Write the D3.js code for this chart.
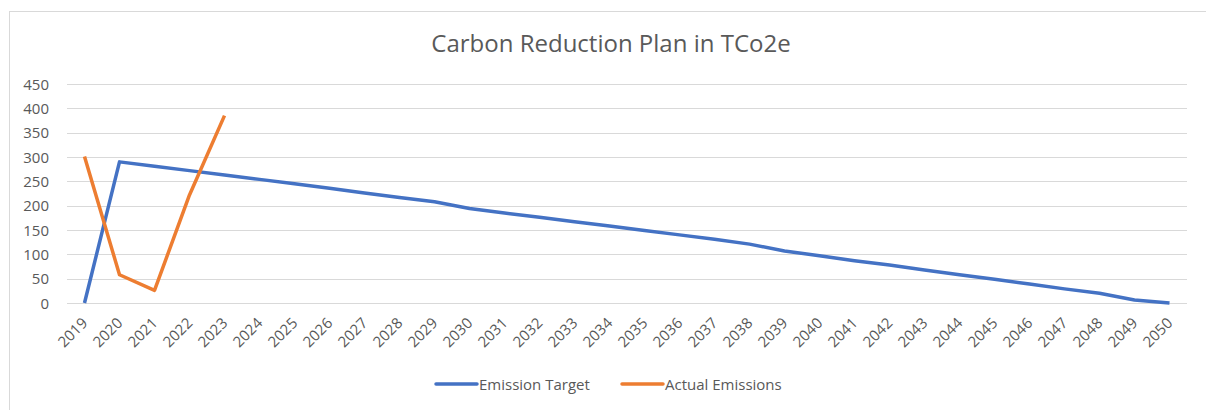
<!DOCTYPE html>
<html>
<head>
<meta charset="utf-8">
<script src="https://cdn.jsdelivr.net/npm/d3@7"></script>
<style>
  body { margin: 0; background: #fff; }
  svg text { font-family: "Open Sans", "Noto Sans", sans-serif; fill: #595959; }
</style>
</head>
<body>
<div id="chart"></div>
<script>
const years = d3.range(2019, 2051).map(String);

const emissionTarget = [
  0, 290, 281, 272, 263, 254, 245, 236, 226, 217, 208,
  194, 185, 176, 167, 158, 149, 140, 131, 121, 107,
  97, 87, 78, 68, 58, 49, 39, 29, 20, 6, 0
];

const actualEmissions = [301, 58, 26, 222, 385];

const yTicks = [0, 50, 100, 150, 200, 250, 300, 350, 400, 450];

const seriesNames = ['Emission Target', 'Actual Emissions'];
const seriesColors = ['#4472C4', '#ED7D31'];

const W = 1206, H = 410;
const svg = d3.select('#chart').append('svg')
  .attr('width', W).attr('height', H);

// chart border
svg.append('rect')
  .attr('x', 9.5).attr('y', 11.5)
  .attr('width', W).attr('height', H)
  .attr('fill', 'none')
  .attr('stroke', '#d9d9d9');

const plot = { left: 67, right: 1187, top: 84, bottom: 303 };

const x = d3.scalePoint()
  .domain(years)
  .range([plot.left, plot.right])
  .padding(0.5);

const y = d3.scaleLinear()
  .domain([0, 450])
  .range([plot.bottom, plot.top]);

// gridlines
svg.append('g')
  .selectAll('line')
  .data(yTicks)
  .enter().append('line')
  .attr('x1', plot.left).attr('x2', plot.right)
  .attr('y1', d => Math.round(y(d)) + 0.5)
  .attr('y2', d => Math.round(y(d)) + 0.5)
  .attr('stroke', '#d9d9d9')
  .attr('stroke-width', 1);

// y labels
svg.append('g')
  .selectAll('text')
  .data(yTicks)
  .enter().append('text')
  .attr('x', 49)
  .attr('y', d => y(d) + 5.5)
  .attr('text-anchor', 'end')
  .attr('font-size', '15px')
  .text(d => d);

// x labels rotated
svg.append('g')
  .selectAll('text')
  .data(years)
  .enter().append('text')
  .attr('transform', d => `translate(${x(d) + 4},${plot.bottom + 21}) rotate(-45)`)
  .attr('text-anchor', 'end')
  .attr('font-size', '15px')
  .text(d => d);

const line = d3.line()
  .x((d, i) => x(years[i]))
  .y(d => y(d));

[emissionTarget, actualEmissions].forEach((vals, k) => {
  svg.append('path')
    .datum(vals)
    .attr('d', line)
    .attr('fill', 'none')
    .attr('stroke', seriesColors[k])
    .attr('stroke-width', 3.5)
    .attr('stroke-linejoin', 'round');
});

// title
svg.append('text')
  .attr('x', 611).attr('y', 52)
  .attr('text-anchor', 'middle')
  .attr('font-size', '24px')
  .text('Carbon Reduction Plan in TCo2e');

// legend
const legendX = [436, 622];
seriesNames.forEach((name, k) => {
  svg.append('line')
    .attr('x1', legendX[k]).attr('x2', legendX[k] + 41)
    .attr('y1', 384).attr('y2', 384)
    .attr('stroke', seriesColors[k])
    .attr('stroke-width', 3.5)
    .attr('stroke-linecap', 'round');
  svg.append('text')
    .attr('x', legendX[k] + 43)
    .attr('y', 389.5)
    .attr('font-size', '15px')
    .text(name);
});
</script>
</body>
</html>
